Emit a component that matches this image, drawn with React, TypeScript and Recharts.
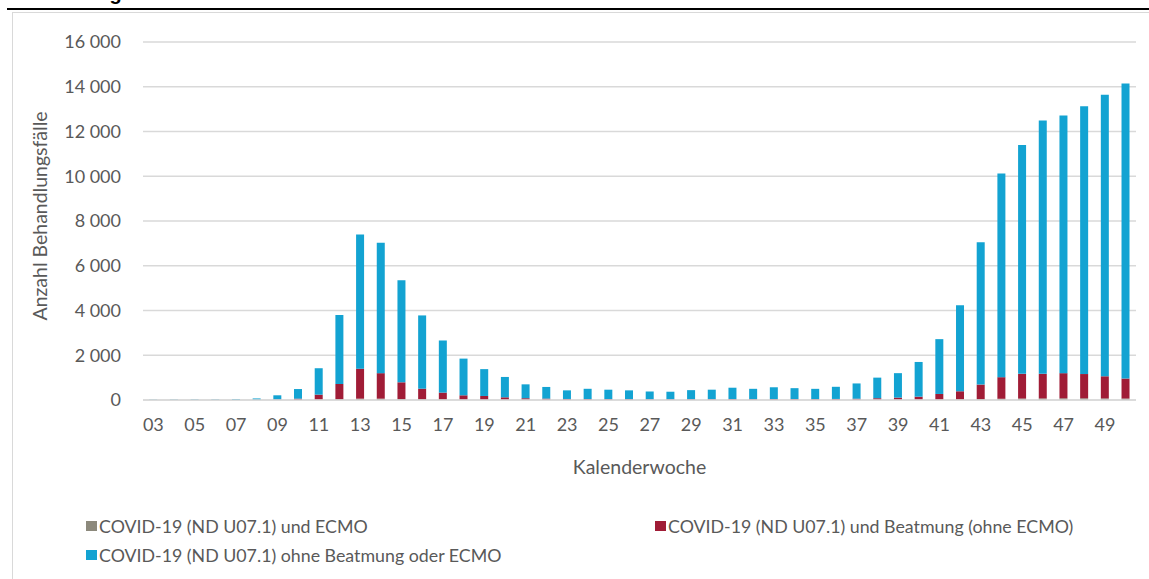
import React from "react";
import { BarChart, Bar, XAxis, YAxis, CartesianGrid, Legend } from "recharts";

const weeks = [
  "03", "04", "05", "06", "07", "08", "09", "10", "11", "12", "13", "14", "15", "16", "17", "18",
  "19", "20", "21", "22", "23", "24", "25", "26", "27", "28", "29", "30", "31", "32", "33", "34",
  "35", "36", "37", "38", "39", "40", "41", "42", "43", "44", "45", "46", "47", "48", "49", "50",
];

// COVID-19 (ND U07.1) und ECMO
const ecmo = [
  0, 0, 0, 0, 0, 0, 2, 5, 15, 35, 60, 60, 45, 35, 25, 20,
  15, 12, 10, 8, 6, 6, 6, 6, 5, 5, 6, 6, 6, 6, 6, 6,
  6, 7, 8, 10, 12, 15, 20, 30, 40, 55, 65, 70, 75, 75, 70, 65,
];

// COVID-19 (ND U07.1) und Beatmung (ohne ECMO)
const beatmung = [
  2, 3, 3, 4, 5, 8, 20, 55, 225, 680, 1340, 1140, 745, 470, 305, 190,
  165, 108, 70, 55, 40, 38, 35, 32, 28, 28, 30, 30, 35, 32, 35, 35,
  35, 40, 50, 70, 95, 135, 250, 360, 650, 965, 1105, 1100, 1125, 1085, 990, 895,
];

// COVID-19 (ND U07.1) ohne Beatmung oder ECMO
const ohne = [
  13, 17, 22, 21, 40, 62, 188, 430, 1180, 3085, 6000, 5830, 4560, 3275, 2330, 1640,
  1200, 910, 620, 520, 385, 457, 420, 393, 347, 337, 405, 425, 508, 462, 528, 488,
  458, 543, 682, 920, 1093, 1550, 2450, 3850, 6360, 9100, 10230, 11320, 11510, 11965, 12580, 13180,
];

const yTicks = [0, 2000, 4000, 6000, 8000, 10000, 12000, 14000, 16000];

const SERIES = [
  { key: "ecmo", name: "COVID-19 (ND U07.1) und ECMO", color: "#8c897c" },
  { key: "beatmung", name: "COVID-19 (ND U07.1) und Beatmung (ohne ECMO)", color: "#a01c36" },
  { key: "ohne", name: "COVID-19 (ND U07.1) ohne Beatmung oder ECMO", color: "#13a3d2" },
];

const data = weeks.map((w, i) => ({
  week: w,
  ecmo: ecmo[i],
  beatmung: beatmung[i],
  ohne: ohne[i],
}));

const FONT = "Lato, 'Open Sans', sans-serif";
const TEXT = "#595959";

const fmt = (v: number) => String(v).replace(/\B(?=(\d{3})+(?!\d))/g, " ");

// legend spots (chart coords)
const LEGEND_POS = [
  { left: 86, top: 526 },
  { left: 655, top: 526 },
  { left: 86, top: 555 },
];

function renderLegend() {
  return (
    <div style={{ position: "relative", width: 1149, height: 579, pointerEvents: "none" }}>
      {SERIES.map((s, i) => (
        <div
          key={s.key}
          style={{
            position: "absolute",
            left: LEGEND_POS[i].left,
            top: LEGEND_POS[i].top - 11,
            height: 22,
            display: "flex",
            alignItems: "center",
            whiteSpace: "nowrap",
            fontFamily: FONT,
            fontSize: 17.8,
            color: TEXT,
          }}
        >
          <span style={{ display: "inline-block", width: 11, height: 10, background: s.color, marginRight: 2 }} />
          {s.name}
        </div>
      ))}
    </div>
  );
}

export default function App() {
  return (
    <div style={{ position: "absolute", left: 0, top: 0, width: 1149, height: 579, overflow: "hidden", background: "#fff" }}>
      <div
        style={{
          position: "absolute",
          left: 24,
          top: -18,
          fontFamily: "'Liberation Sans', Arial, sans-serif",
          fontWeight: 700,
          fontSize: 20,
          color: "#000",
          whiteSpace: "nowrap",
        }}
      >
        Beatmung und ECMO
      </div>
      <div style={{ position: "absolute", left: 7, top: 7.5, width: 1200, height: 2, background: "#000" }} />
      <div
        style={{
          position: "absolute",
          left: 12,
          top: 12,
          width: 1200,
          height: 700,
          border: "1px solid #d9d9d9",
        }}
      />
      <div style={{ position: "absolute", left: 0, top: 0 }}>
        <BarChart
          width={1149}
          height={579}
          data={data}
          margin={{ top: 42, right: 13, bottom: 149, left: 0 }}
          barCategoryGap="30%"
        >
          <CartesianGrid vertical={false} stroke="#d9d9d9" strokeWidth={1.3} />
          <XAxis
            dataKey="week"
            height={30}
            interval={1}
            tickLine={false}
            tickSize={0}
            tickMargin={18}
            axisLine={{ stroke: "#d9d9d9", strokeWidth: 1.3 }}
            tick={{ fill: TEXT, fontSize: 18, fontFamily: FONT }}
            label={{
              content: (props: any) => {
                const vb = props.viewBox;
                return (
                  <text
                    x={vb.x + vb.width / 2}
                    y={vb.y + 66}
                    textAnchor="middle"
                    dominantBaseline="central"
                    fill={TEXT}
                    fontSize={19.5}
                    fontFamily={FONT}
                  >
                    Kalenderwoche
                  </text>
                );
              },
            }}
          />
          <YAxis
            width={143}
            domain={[0, 16000]}
            ticks={yTicks}
            tickFormatter={fmt}
            tickLine={false}
            axisLine={false}
            tickSize={0}
            tickMargin={22}
            tick={{ fill: TEXT, fontSize: 18, fontFamily: FONT }}
            label={{
              content: (props: any) => {
                const vb = props.viewBox;
                const cx = 39;
                const cy = vb.y + vb.height / 2 - 5;
                return (
                  <text
                    x={cx}
                    y={cy}
                    transform={`rotate(-90 ${cx} ${cy})`}
                    textAnchor="middle"
                    dominantBaseline="central"
                    fill={TEXT}
                    fontSize={19.5}
                    fontFamily={FONT}
                  >
                    Anzahl Behandlungsfälle
                  </text>
                );
              },
            }}
          />
          <Legend
            layout="horizontal"
            verticalAlign="middle"
            align="center"
            content={renderLegend}
            wrapperStyle={{ position: "absolute", left: 0, top: 0, width: 1149, height: 579, pointerEvents: "none" }}
          />
          {SERIES.map((s) => (
            <Bar
              key={s.key}
              dataKey={s.key}
              name={s.name}
              stackId="a"
              fill={s.color}
              isAnimationActive={false}
            />
          ))}
        </BarChart>
      </div>
    </div>
  );
}
